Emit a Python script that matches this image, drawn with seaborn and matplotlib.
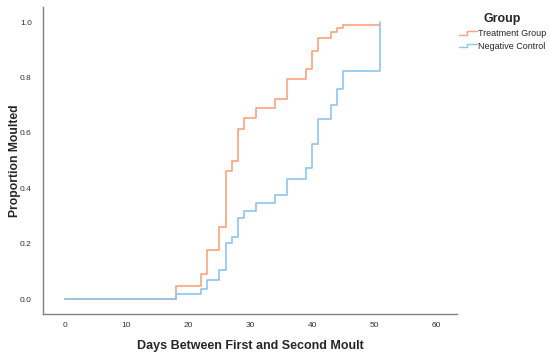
import matplotlib
matplotlib.use("Agg")
import matplotlib.pyplot as plt
from matplotlib.legend_handler import HandlerBase
from matplotlib.lines import Line2D
import seaborn as sns
import pandas as pd

sns.set_style("white")
plt.rcParams['font.family'] = ['Liberation Sans', 'DejaVu Sans']

groups = ["Treatment Group", "Negative Control"]
treat_days = [0, 18, 22, 23, 25, 26, 27, 28, 29, 31, 34, 36, 39, 40, 41, 43, 44, 45, 51]
treat_prop = [0, 0.047, 0.090, 0.177, 0.260, 0.462, 0.500, 0.615, 0.652, 0.688,
              0.723, 0.793, 0.830, 0.894, 0.943, 0.963, 0.980, 0.990, 0.990]
ctrl_days = [0, 18, 22, 23, 25, 26, 27, 28, 29, 31, 34, 36, 39, 40, 41, 43, 44, 45, 51]
ctrl_prop = [0, 0.017, 0.035, 0.069, 0.105, 0.202, 0.224, 0.292, 0.319, 0.347,
             0.374, 0.435, 0.473, 0.558, 0.650, 0.701, 0.760, 0.822, 1.0]
x_ticks = [0, 10, 20, 30, 40, 50, 60]
y_ticks = [0.0, 0.2, 0.4, 0.6, 0.8, 1.0]

colors = {"Treatment Group": "#F9A27F", "Negative Control": "#8DC4EE"}

df = pd.concat([
    pd.DataFrame({"day": treat_days, "prop": treat_prop, "group": groups[0]}),
    pd.DataFrame({"day": ctrl_days, "prop": ctrl_prop, "group": groups[1]}),
], ignore_index=True)

fig = plt.figure(figsize=(5.5, 3.55), dpi=100)
ax = fig.add_axes([0.078, 0.1155, 0.753, 0.8645])

sns.lineplot(data=df, x="day", y="prop", hue="group", palette=colors,
             drawstyle="steps-post", estimator=None, sort=False,
             linewidth=1.2, ax=ax, legend=False)

ax.set_xlim(-3.5, 63.4)
ax.set_ylim(-0.054, 1.054)
ax.set_xticks(x_ticks)
ax.set_xticklabels([str(t) for t in x_ticks])
ax.set_yticks(y_ticks)
ax.set_yticklabels([f"{t:.1f}" for t in y_ticks])
ax.tick_params(axis="x", length=0, labelsize=6, colors="#333333", pad=6)
ax.tick_params(axis="y", length=0, labelsize=6, colors="#333333", pad=8)

for s in ["top", "right"]:
    ax.spines[s].set_visible(False)
for s in ["left", "bottom"]:
    ax.spines[s].set_color("#808080")
    ax.spines[s].set_linewidth(1.0)

ax.set_xlabel("Days Between First and Second Moult", fontsize=9, fontweight="bold", labelpad=8)
ax.set_ylabel("Proportion Moulted", fontsize=8.7, fontweight="bold")
ax.yaxis.set_label_coords(-0.052, 0.5)


class StepHandler(HandlerBase):
    def create_artists(self, legend, orig_handle, xdescent, ydescent, width, height, fontsize, trans):
        w, h = width, height
        xs = [-xdescent, -xdescent + 0.45 * w, -xdescent + 0.45 * w, -xdescent + w]
        ys = [h * 0.2, h * 0.2, h * 0.8, h * 0.8]
        line = Line2D(xs, ys, color=orig_handle.get_color(), linewidth=1.0, transform=trans)
        return [line]


handles = [Line2D([], [], color=colors[g]) for g in groups]
leg = fig.legend(handles, groups, title="Group", loc="upper left",
                 bbox_to_anchor=(0.8195, 0.985), frameon=False, fontsize=6.5,
                 handler_map={Line2D: StepHandler()}, handlelength=2.0,
                 handletextpad=0.1, labelspacing=0.4,
                 title_fontproperties={"weight": "bold", "size": 9})

fig.savefig("out.png", dpi=100)
